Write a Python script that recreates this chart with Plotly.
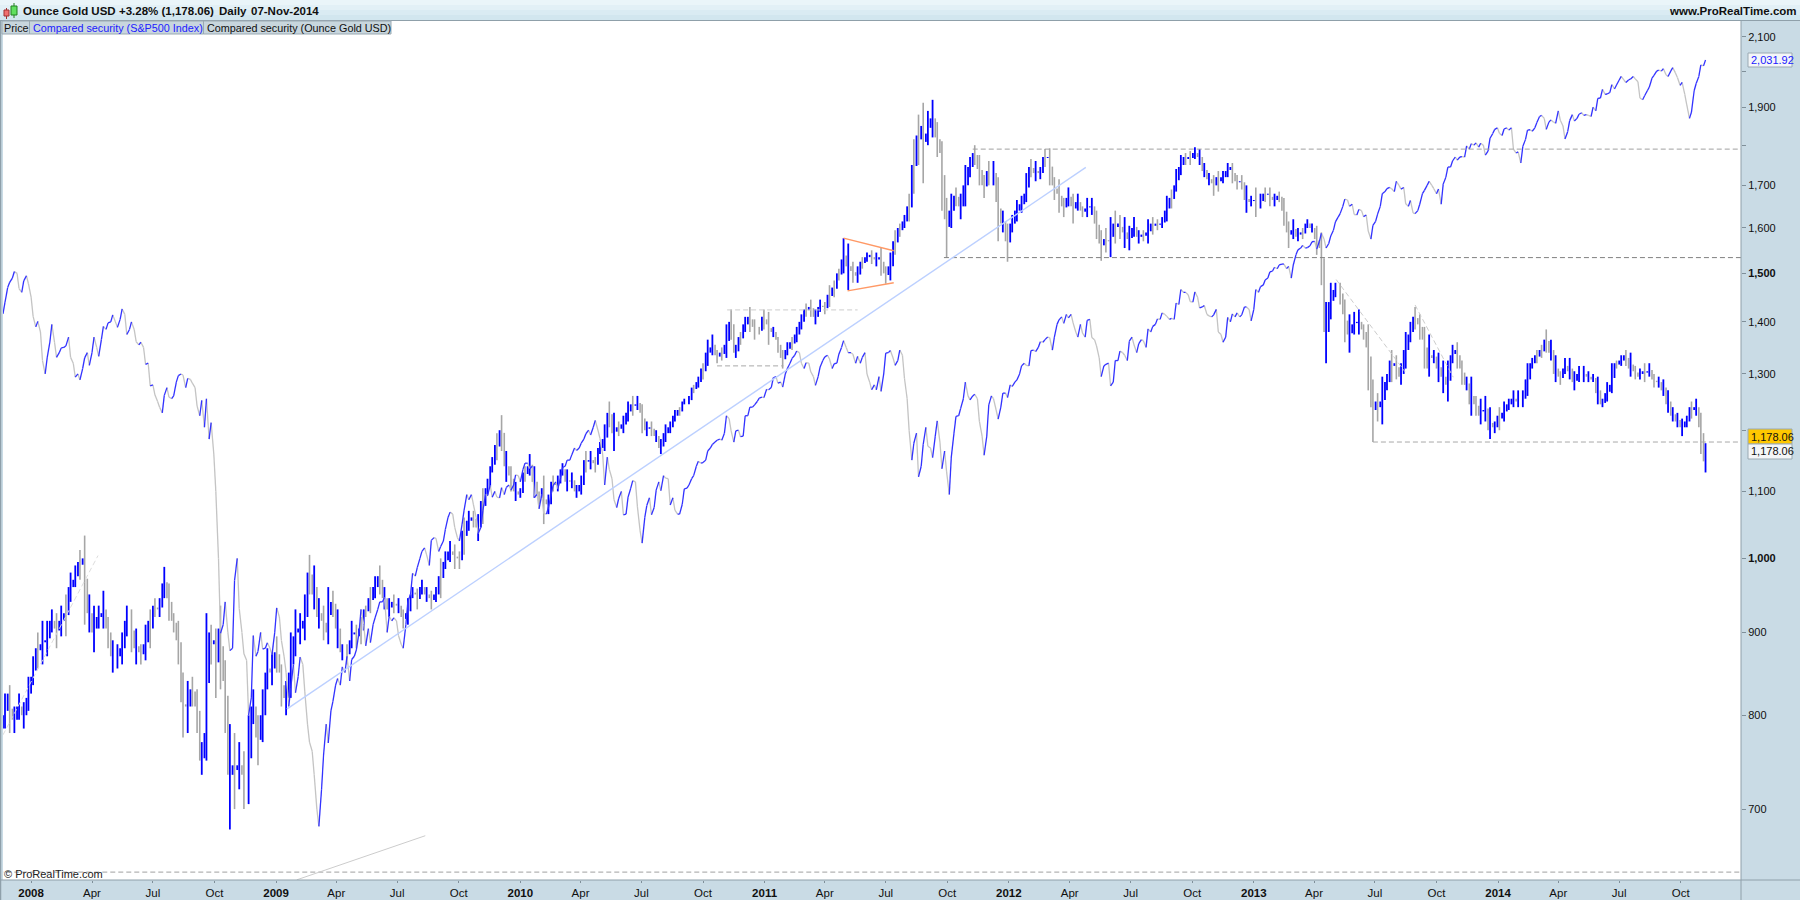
import pandas as pd
import plotly.graph_objects as go

# S&P 500 end-of-week values
sp_2007 = [1440,1481,1504,1468,1484,1478]
sp_2008 = [1411,1401,1325,1330,1395,1331,1349,1353,1331,1294,
           1289,1330,1316,1370,1333,1391,1398,1414,1389,1426,
           1375,1400,1361,1360,1318,1278,1262,1240,1261,1258,
           1260,1297,1298,1292,1283,1242,1252,1255,1213,1100,
           899,940,877,969,931,873,800,896,876,879,
           887,872]
sp_2009 = [932,890,850,832,826,869,827,770,735,683,
           756,769,816,843,857,870,866,878,930,883,
           887,919,940,946,921,919,896,880,941,979,
           987,1010,1005,1026,1029,1017,1042,1068,1045,1025,
           1071,1087,1079,1036,1070,1093,1091,1091,1106,1106,
           1102,1126,1115]
sp_2010 = [1145,1136,1091,1073,1066,1075,1109,1104,1138,1150,
           1159,1166,1178,1194,1192,1217,1186,1110,1135,1087,
           1089,1064,1091,1117,1076,1022,1078,1064,1102,1101,
           1121,1079,1071,1065,1104,1110,1125,1148,1146,1165,
           1176,1183,1183,1225,1199,1199,1189,1225,1240,1244,
           1256,1257]
sp_2011 = [1271,1293,1283,1276,1310,1329,1343,1320,1321,1304,
           1279,1313,1332,1328,1319,1337,1363,1340,1337,1333,
           1331,1300,1271,1271,1268,1339,1344,1316,1345,1292,
           1199,1178,1123,1176,1173,1154,1216,1136,1131,1155,
           1224,1238,1285,1253,1263,1215,1158,1244,1255,1219,
           1265,1257]
sp_2012 = [1277,1289,1315,1316,1344,1342,1361,1365,1369,1370,
           1404,1397,1408,1398,1370,1378,1403,1369,1353,1295,
           1318,1278,1325,1343,1335,1362,1355,1357,1363,1386,
           1391,1406,1418,1411,1407,1438,1466,1460,1441,1461,
           1428,1433,1412,1414,1380,1360,1409,1416,1418,1414,
           1430,1402]
sp_2013 = [1466,1472,1486,1503,1513,1518,1520,1515,1518,1551,
           1561,1556,1569,1553,1588,1555,1582,1614,1633,1667,
           1650,1631,1643,1626,1593,1606,1632,1680,1692,1692,
           1710,1691,1656,1664,1633,1655,1688,1710,1692,1691,
           1703,1745,1760,1762,1771,1798,1804,1806,1805,1775,
           1818,1841]
sp_2014 = [1831,1842,1839,1790,1783,1797,1839,1836,1859,1878,
           1841,1866,1857,1865,1816,1864,1863,1881,1878,1878,
           1900,1924,1949,1936,1962,1961,1985,1968,1978,1978,
           1925,1931,1955,1988,2003,2007,1985,2010,1982,1968,
           1906,1887,1965,2018,2032]

# S&P 500 mid-week values
spm_2007 = [1416,1470,1490,1500,1460,1495]
spm_2008 = [1450,1390,1380,1300,1360,1360,1340,1350,1370,1320,
            1300,1310,1340,1340,1350,1365,1385,1400,1400,1405,
            1415,1385,1385,1355,1350,1320,1280,1250,1230,1275,
            1255,1285,1300,1275,1290,1275,1225,1205,1185,1160,
            1000,910,900,880,1000,900,865,820,870,900,
            880,880]
spm_2009 = [900,920,870,810,860,845,860,790,760,700,
            720,790,805,835,835,850,840,870,900,910,
            905,910,930,940,900,915,915,885,910,950,
            975,1000,1015,990,1030,1010,1025,1060,1065,1030,
            1050,1095,1095,1060,1045,1095,1110,1100,1090,1095,
            1110,1110,1125]
spm_2010 = [1135,1145,1140,1095,1095,1065,1095,1115,1120,1140,
            1150,1170,1170,1185,1200,1205,1200,1160,1155,1120,
            1075,1100,1065,1105,1115,1040,1060,1090,1075,1115,
            1125,1120,1090,1065,1080,1105,1120,1140,1145,1150,
            1170,1180,1185,1195,1220,1180,1200,1190,1225,1240,
            1250,1258]
spm_2011 = [1272,1275,1295,1285,1300,1320,1335,1340,1310,1320,
            1295,1295,1325,1335,1310,1320,1350,1350,1340,1320,
            1320,1340,1285,1280,1295,1300,1340,1330,1325,1335,
            1255,1150,1195,1140,1205,1170,1190,1180,1165,1095,
            1195,1225,1255,1260,1260,1255,1190,1190,1260,1235,
            1240,1265]
spm_2012 = [1280,1285,1300,1320,1315,1345,1350,1360,1370,1345,
            1395,1410,1415,1415,1380,1395,1370,1405,1365,1330,
            1315,1320,1285,1325,1340,1325,1370,1340,1365,1350,
            1380,1395,1405,1415,1405,1405,1435,1460,1455,1440,
            1450,1430,1415,1410,1425,1375,1370,1400,1410,1410,
            1430,1425]
spm_2013 = [1425,1460,1475,1490,1505,1510,1520,1510,1490,1540,
            1555,1555,1560,1570,1570,1575,1565,1595,1625,1650,
            1665,1655,1630,1640,1630,1575,1615,1650,1685,1695,
            1685,1700,1695,1650,1635,1640,1680,1700,1700,1680,
            1655,1720,1745,1770,1770,1770,1790,1800,1795,1800,
            1785,1830]
spm_2014 = [1845,1825,1845,1845,1780,1755,1815,1840,1845,1875,
            1870,1860,1860,1890,1850,1835,1880,1870,1885,1880,
            1875,1890,1925,1935,1940,1950,1975,1975,1975,1985,
            1970,1920,1945,1980,2000,2000,1990,2000,1995,1960,
            1935,1870,1945,1985,2015]

# Ounce Gold weekly lows and highs
gl_2007 = [785,780,780,795,785,805]
gh_2007 = [825,835,810,825,815,845]
gl_2008 = [835,855,860,870,900,880,895,895,940,960,
           970,910,900,875,905,905,880,850,855,860,
           895,875,860,860,865,880,920,920,945,915,
           900,860,775,780,810,780,735,750,860,820,
           830,780,680,700,720,700,705,790,745,770,
           830,835]
gh_2008 = [870,900,915,915,930,925,935,950,980,990,
           1012,1033,950,935,935,955,920,890,885,900,
           935,930,905,885,910,930,945,945,988,965,
           925,915,850,840,845,830,770,925,910,905,
           935,865,790,780,770,760,800,830,800,830,
           880,875]
gl_2009 = [850,810,800,820,870,885,890,950,930,905,
           890,885,920,880,865,860,880,880,885,920,
           925,945,950,930,920,925,925,905,910,945,
           930,950,940,930,940,945,985,995,985,985,
           1005,1040,1045,1025,1050,1095,1130,1150,1165,1115,
           1100,1085,1090]
gh_2009 = [895,860,840,900,930,925,950,1005,990,945,
           935,960,955,930,885,885,915,910,920,935,
           960,975,990,960,945,950,945,930,945,960,
           958,970,960,955,960,1000,1010,1025,1020,1010,
           1060,1070,1070,1065,1105,1120,1155,1195,1226,1165,
           1140,1115,1105]
gl_2010 = [1115,1125,1090,1080,1050,1065,1100,1100,1125,1100,
           1105,1090,1095,1130,1135,1130,1160,1165,1205,1165,
           1190,1195,1215,1225,1235,1195,1190,1190,1180,1160,
           1180,1195,1215,1225,1245,1245,1265,1275,1290,1315,
           1335,1320,1325,1330,1365,1330,1355,1380,1380,1365,
           1375,1385]
gh_2010 = [1140,1160,1140,1100,1125,1095,1125,1125,1145,1135,
           1130,1110,1125,1165,1165,1155,1180,1210,1250,1230,
           1215,1225,1250,1260,1260,1245,1215,1215,1200,1185,
           1210,1215,1235,1240,1255,1260,1280,1295,1320,1365,
           1375,1345,1350,1395,1425,1355,1380,1410,1430,1405,
           1390,1425]
gl_2011 = [1355,1370,1340,1310,1335,1345,1360,1385,1410,1410,
           1395,1420,1415,1430,1450,1485,1500,1465,1480,1480,
           1510,1525,1520,1515,1495,1478,1485,1540,1580,1600,
           1615,1680,1750,1705,1800,1820,1770,1640,1535,1600,
           1650,1620,1650,1720,1750,1700,1670,1700,1700,1570,
           1590,1525]
gh_2011 = [1420,1390,1370,1345,1360,1370,1390,1415,1437,1445,
           1425,1445,1440,1475,1485,1510,1577,1565,1525,1515,
           1535,1545,1550,1545,1555,1515,1545,1595,1610,1630,
           1680,1815,1880,1912,1890,1920,1860,1810,1670,1680,
           1695,1680,1750,1770,1800,1775,1725,1760,1760,1720,
           1640,1610]
gl_2012 = [1590,1615,1635,1660,1720,1710,1715,1745,1700,1665,
           1635,1625,1650,1610,1640,1625,1625,1630,1575,1527,
           1545,1535,1565,1575,1555,1550,1580,1565,1570,1565,
           1585,1595,1600,1615,1645,1685,1725,1750,1750,1765,
           1750,1720,1700,1675,1685,1705,1720,1705,1690,1690,
           1635,1650]
gh_2012 = [1630,1665,1675,1730,1765,1760,1745,1790,1792,1720,
           1715,1670,1695,1680,1680,1650,1670,1670,1640,1595,
           1600,1625,1640,1630,1625,1605,1625,1595,1595,1620,
           1625,1620,1625,1675,1690,1740,1775,1780,1785,1795,
           1790,1755,1730,1725,1735,1735,1755,1755,1725,1725,
           1700,1675]
gl_2013 = [1625,1645,1660,1650,1650,1660,1605,1555,1575,1570,
           1575,1600,1590,1540,1475,1320,1405,1450,1435,1360,
           1340,1375,1375,1365,1270,1180,1215,1210,1270,1285,
           1290,1280,1310,1360,1385,1365,1310,1295,1320,1285,
           1265,1250,1320,1310,1280,1270,1225,1225,1210,1215,
           1185,1195]
gh_2013 = [1695,1680,1695,1695,1680,1685,1670,1615,1620,1600,
           1600,1620,1610,1605,1590,1440,1480,1480,1480,1445,
           1415,1420,1425,1395,1395,1290,1265,1295,1300,1345,
           1335,1320,1380,1400,1430,1415,1390,1375,1345,1340,
           1325,1325,1355,1360,1325,1295,1295,1260,1255,1260,
           1240,1215]
gl_2014 = [1200,1215,1235,1240,1240,1240,1260,1310,1320,1330,
           1340,1325,1285,1280,1300,1290,1270,1285,1285,1285,
           1285,1245,1240,1250,1265,1310,1315,1315,1295,1290,
           1290,1285,1295,1275,1275,1260,1230,1215,1205,1190,
           1205,1220,1225,1160,1130]
gh_2014 = [1240,1250,1255,1270,1270,1270,1320,1330,1345,1355,
           1385,1365,1335,1305,1330,1330,1305,1315,1315,1305,
           1300,1295,1255,1285,1320,1325,1335,1345,1340,1315,
           1310,1320,1320,1300,1295,1290,1270,1240,1230,1220,
           1225,1250,1255,1230,1178]

# Ounce Gold mid-week values
gm_2007 = [800,825,795,810,800,820]
gm_2008 = [845,880,885,890,915,905,915,925,960,970,
           995,1000,925,900,920,925,905,870,870,880,
           915,915,880,875,885,915,935,930,965,945,
           915,890,815,810,830,810,750,780,900,890,
           905,840,735,745,745,735,730,810,775,800,
           850,850]
gm_2009 = [875,850,820,850,895,905,915,980,950,920,
           915,900,940,905,875,875,890,900,905,930,
           945,960,975,945,930,940,935,920,925,950,
           950,960,950,945,950,975,995,1010,1005,1000,
           1040,1055,1060,1045,1085,1105,1140,1175,1200,1140,
           1125,1100,1095]
gm_2010 = [1130,1140,1115,1095,1105,1080,1115,1110,1135,1115,
           1115,1100,1110,1150,1150,1145,1170,1185,1230,1195,
           1205,1210,1230,1245,1245,1230,1200,1205,1190,1170,
           1195,1205,1225,1235,1250,1250,1275,1285,1310,1340,
           1350,1335,1340,1355,1400,1340,1370,1395,1410,1390,
           1385,1410]
gm_2011 = [1395,1380,1365,1330,1345,1360,1375,1400,1425,1430,
           1410,1430,1430,1455,1470,1500,1530,1515,1505,1495,
           1525,1535,1540,1530,1535,1500,1515,1570,1600,1615,
           1650,1750,1825,1850,1830,1870,1820,1780,1620,1640,
           1675,1650,1700,1745,1780,1740,1700,1735,1730,1660,
           1610,1570]
gm_2012 = [1610,1640,1655,1680,1745,1730,1730,1770,1770,1700,
           1680,1650,1670,1650,1660,1640,1645,1650,1610,1565,
           1575,1570,1610,1610,1590,1575,1600,1580,1585,1590,
           1610,1610,1610,1640,1670,1700,1745,1770,1770,1780,
           1770,1735,1715,1705,1720,1720,1735,1745,1710,1710,
           1665,1660]
gm_2013 = [1665,1660,1680,1680,1665,1675,1640,1590,1595,1580,
           1590,1610,1600,1575,1555,1380,1440,1465,1465,1415,
           1375,1395,1400,1385,1350,1240,1250,1250,1285,1325,
           1320,1295,1345,1375,1410,1395,1365,1310,1330,1310,
           1295,1280,1335,1345,1310,1280,1245,1245,1225,1235,
           1200,1205]
gm_2014 = [1225,1230,1245,1255,1250,1255,1290,1320,1335,1345,
           1365,1340,1300,1295,1310,1305,1285,1300,1300,1295,
           1290,1265,1245,1265,1280,1320,1325,1335,1310,1305,
           1295,1305,1305,1290,1285,1270,1245,1225,1215,1205,
           1215,1240,1240,1205,1148]

y_tick_vals = [700,800,900,1000,1100,1200,1300,1400,1500,1600,1700,1800,1900,2000,2100]
y_tick_text = ["700","800","900","<b>1,000</b>","1,100","","1,300","1,400","<b>1,500</b>","1,600","1,700","","1,900","","2,100"]
x_tick_vals = ["2008-01-01","2008-04-01","2008-07-01","2008-10-01","2009-01-01","2009-04-01","2009-07-01","2009-10-01",
               "2010-01-01","2010-04-01","2010-07-01","2010-10-01","2011-01-01","2011-04-01","2011-07-01","2011-10-01",
               "2012-01-01","2012-04-01","2012-07-01","2012-10-01","2013-01-01","2013-04-01","2013-07-01","2013-10-01",
               "2014-01-01","2014-04-01","2014-07-01","2014-10-01"]
x_tick_text = ["<b>2008</b>","Apr","Jul","Oct","<b>2009</b>","Apr","Jul","Oct","<b>2010</b>","Apr","Jul","Oct",
               "<b>2011</b>","Apr","Jul","Oct","<b>2012</b>","Apr","Jul","Oct","<b>2013</b>","Apr","Jul","Oct",
               "<b>2014</b>","Apr","Jul","Oct"]

sp = sp_2007+sp_2008+sp_2009+sp_2010+sp_2011+sp_2012+sp_2013+sp_2014
spm = spm_2007+spm_2008+spm_2009+spm_2010+spm_2011+spm_2012+spm_2013+spm_2014
low = gl_2007+gl_2008+gl_2009+gl_2010+gl_2011+gl_2012+gl_2013+gl_2014
high = gh_2007+gh_2008+gh_2009+gh_2010+gh_2011+gh_2012+gh_2013+gh_2014
mid = gm_2007+gm_2008+gm_2009+gm_2010+gm_2011+gm_2012+gm_2013+gm_2014
fri = pd.date_range("2007-11-23", "2014-11-07", freq="W-FRI")
dates = [d.strftime("%Y-%m-%d") for d in fri]
tues = [(d - pd.Timedelta(days=3)).strftime("%Y-%m-%d") for d in fri]
assert len(sp) == len(spm) == len(low) == len(high) == len(mid) == len(dates), (len(sp), len(spm), len(low), len(high), len(mid), len(dates))

W, H = 1800, 900
L, R, T, B = 3, 1741, 21, 880
BLUE, GREY = "#0000ff", "#a6a6a6"

def bars():
    ux, uy, dx, dy = [], [], [], []
    prev = None
    for t, d, l, h, m in zip(tues, dates, low, high, mid):
        pos = prev if prev is not None else l
        (ux if m >= pos else dx).extend([t, t, None])
        (uy if m >= pos else dy).extend([min(pos, m), max(pos, m), None])
        c = (l + h) / 2
        (ux if c >= m else dx).extend([d, d, None])
        (uy if c >= m else dy).extend([l, h, None])
        prev = c
    return ux, uy, dx, dy

def segs():
    xs, ys = [], []
    for t, d, a, b in zip(tues, dates, spm, sp):
        xs += [t, d]
        ys += [a, b]
    ux, uy, dx, dy = [], [], [], []
    for i in range(1, len(ys)):
        up = ys[i] >= ys[i-1]
        (ux if up else dx).extend([xs[i-1], xs[i], None])
        (uy if up else dy).extend([ys[i-1], ys[i], None])
    return ux, uy, dx, dy

fig = go.Figure()
ux, uy, dx, dy = bars()
fig.add_trace(go.Scatter(x=dx, y=dy, mode="lines", line=dict(color=GREY, width=1.6), hoverinfo="skip", name="Gold down"))
fig.add_trace(go.Scatter(x=ux, y=uy, mode="lines", line=dict(color=BLUE, width=1.8), hoverinfo="skip", name="Gold up"))
ux, uy, dx, dy = segs()
fig.add_trace(go.Scatter(x=dx, y=dy, mode="lines", line=dict(color="#c4c4c4", width=1.3), hoverinfo="skip", name="S&P down"))
fig.add_trace(go.Scatter(x=ux, y=uy, mode="lines", line=dict(color="#3232ff", width=1.3), hoverinfo="skip", name="S&P up"))

# drawn levels and trend lines
DASH = "5px,3px"
lines = [
    ("2011-11-08", 1790, "2015-01-10", 1790, "#a0a0a0", 1, DASH),
    ("2011-09-26", 1534, "2015-01-10", 1534, "#808080", 1, DASH),
    ("2013-06-28", 1180, "2015-01-10", 1180, "#a8a8a8", 1, DASH),
    ("2007-11-01", 640, "2015-01-10", 640, "#a0a0a0", 1, DASH),
    ("2010-11-06", 1424, "2011-05-20", 1424, "#cccccc", 1, DASH),
    ("2010-10-22", 1315, "2011-01-29", 1315, "#a8a8a8", 1, DASH),
    ("2009-01-17", 807, "2012-04-25", 1744, "#bcd0ff", 1.4, "solid"),
    ("2009-02-01", 633, "2009-08-12", 674, "#cccccc", 1, "solid"),
    ("2011-04-29", 1577, "2011-07-13", 1549, "#ff9966", 1.4, "solid"),
    ("2011-05-05", 1463, "2011-07-13", 1480, "#ff9966", 1.4, "solid"),
    ("2007-11-20", 778, "2008-04-10", 1004, "#dddddd", 1, DASH),
    ("2013-05-04", 1487, "2013-08-15", 1304, "#cccccc", 1, DASH),
    ("2013-08-30", 1434, "2013-10-26", 1294, "#cccccc", 1, DASH),
]
for x0, y0, x1, y1, c, w, d in lines:
    fig.add_trace(go.Scatter(x=[x0, x1], y=[y0, y1], mode="lines", line=dict(color=c, width=w, dash=d), hoverinfo="skip"))

# window chrome, in page pixels
def px(x): return (x - L) / (R - L)
def py(y): return (B - y) / (B - T)
def rect(x0, y0, x1, y1, fill, line=None, lw=1):
    return dict(type="rect", xref="paper", yref="paper", x0=px(x0), x1=px(x1), y0=py(y0), y1=py(y1), fillcolor=fill,
                line=dict(color=line or fill, width=lw if line else 0), layer="above")
def hline(x0, x1, y, c, w=1):
    return dict(type="line", xref="paper", yref="paper", x0=px(x0), x1=px(x1), y0=py(y), y1=py(y), line=dict(color=c, width=w), layer="above")
def vline(x, y0, y1, c, w=1):
    return dict(type="line", xref="paper", yref="paper", x0=px(x), x1=px(x), y0=py(y0), y1=py(y1), line=dict(color=c, width=w), layer="above")
AX = "#c9dbe5"; BORD = "#8fa0aa"
shapes = [
    rect(0, 0, W, 5, "#eaf5f9"), rect(0, 5, W, 10, "#e2f0f6"), rect(0, 10, W, 15, "#daebf3"), rect(0, 15, W, 20, "#d2e6ef"),
    hline(0, W, 20.5, BORD), vline(R, 21, H, BORD), hline(0, W, B, BORD), vline(0.5, 21, H, BORD, 1.5),
    rect(2, 21, 29.5, 34, "#c8d6dd", "#9aa9b2"), rect(29.5, 21, 203.5, 34, "#c8d6dd", "#9aa9b2"), rect(203.5, 21, 391, 34, "#c8d6dd", "#9aa9b2"),
    vline(6.5, 8, 19, "#a03030"), vline(14, 3, 18, "#208020"),
    rect(4, 10, 9, 16, "#f07070", "#a03030"), rect(11, 6, 17, 15, "#60e060", "#208020"),
    rect(1748, 53, 1792, 67, "#f4f6f8", "#9aa9b2"), rect(1748, 429, 1792, 444, "#ffc800", "#9aa9b2"), rect(1748, 444, 1792, 459, "#f4f6f8", "#9aa9b2"),
]
FONT = "Liberation Sans"
def txt(x, y, s, size=12, color="#101010", anchor="left"):
    return dict(xref="paper", yref="paper", x=px(x), y=py(y), text=s, showarrow=False, xanchor=anchor, yanchor="middle",
                font=dict(family=FONT, size=size, color=color), borderpad=0, xshift=0)
annotations = [
    txt(22, 11, "<b>Ounce Gold USD</b>", 11.5),
    txt(118, 11, "<b>+3.28% (1,178.06)</b>", 11.5),
    txt(218, 11, "<b>Daily</b>", 11.5),
    txt(250, 11, "<b>07-Nov-2014</b>", 11.5),
    txt(1798, 11, "<b>www.ProRealTime.com</b>", 11.5, anchor="right"),
    txt(3, 27.5, "Price", 10.8),
    txt(32, 27.5, "Compared security (S&P500 Index)", 10.8, "#2020ff"),
    txt(206, 27.5, "Compared security (Ounce Gold USD)", 10.8),
    txt(3, 874, "© ProRealTime.com", 11, "#222222"),
    txt(1750, 60, "2,031.92", 11, "#2020ff"),
    txt(1750, 437, "1,178.06", 11),
    txt(1750, 451, "1,178.06", 11),
]

fig.update_layout(
    width=W, height=H, margin=dict(l=L, r=W-R, t=T, b=H-B), showlegend=False,
    paper_bgcolor=AX, plot_bgcolor="#ffffff", shapes=shapes, annotations=annotations,
    font=dict(family=FONT, size=12, color="#101010"),
    xaxis=dict(type="date", range=["2007-11-20", "2014-12-30"], tickmode="array", tickvals=x_tick_vals, ticktext=x_tick_text,
               ticks="outside", ticklen=2, tickcolor="#7f8f99", showgrid=False, zeroline=False, showline=False, tickangle=0,
               automargin=False, tickfont=dict(size=11.5, family=FONT)),
    yaxis=dict(type="log", side="right", range=[2.8013, 3.3320], tickmode="array", tickvals=y_tick_vals, ticktext=y_tick_text,
               ticks="outside", ticklen=4, tickcolor="#7f8f99", showgrid=False, zeroline=False, showline=False,
               automargin=False, tickfont=dict(size=11, family=FONT)),
)
fig.write_html("out.html", config={"displayModeBar": False},
               post_script="document.body.style.margin='0';document.body.style.overflow='hidden';")
